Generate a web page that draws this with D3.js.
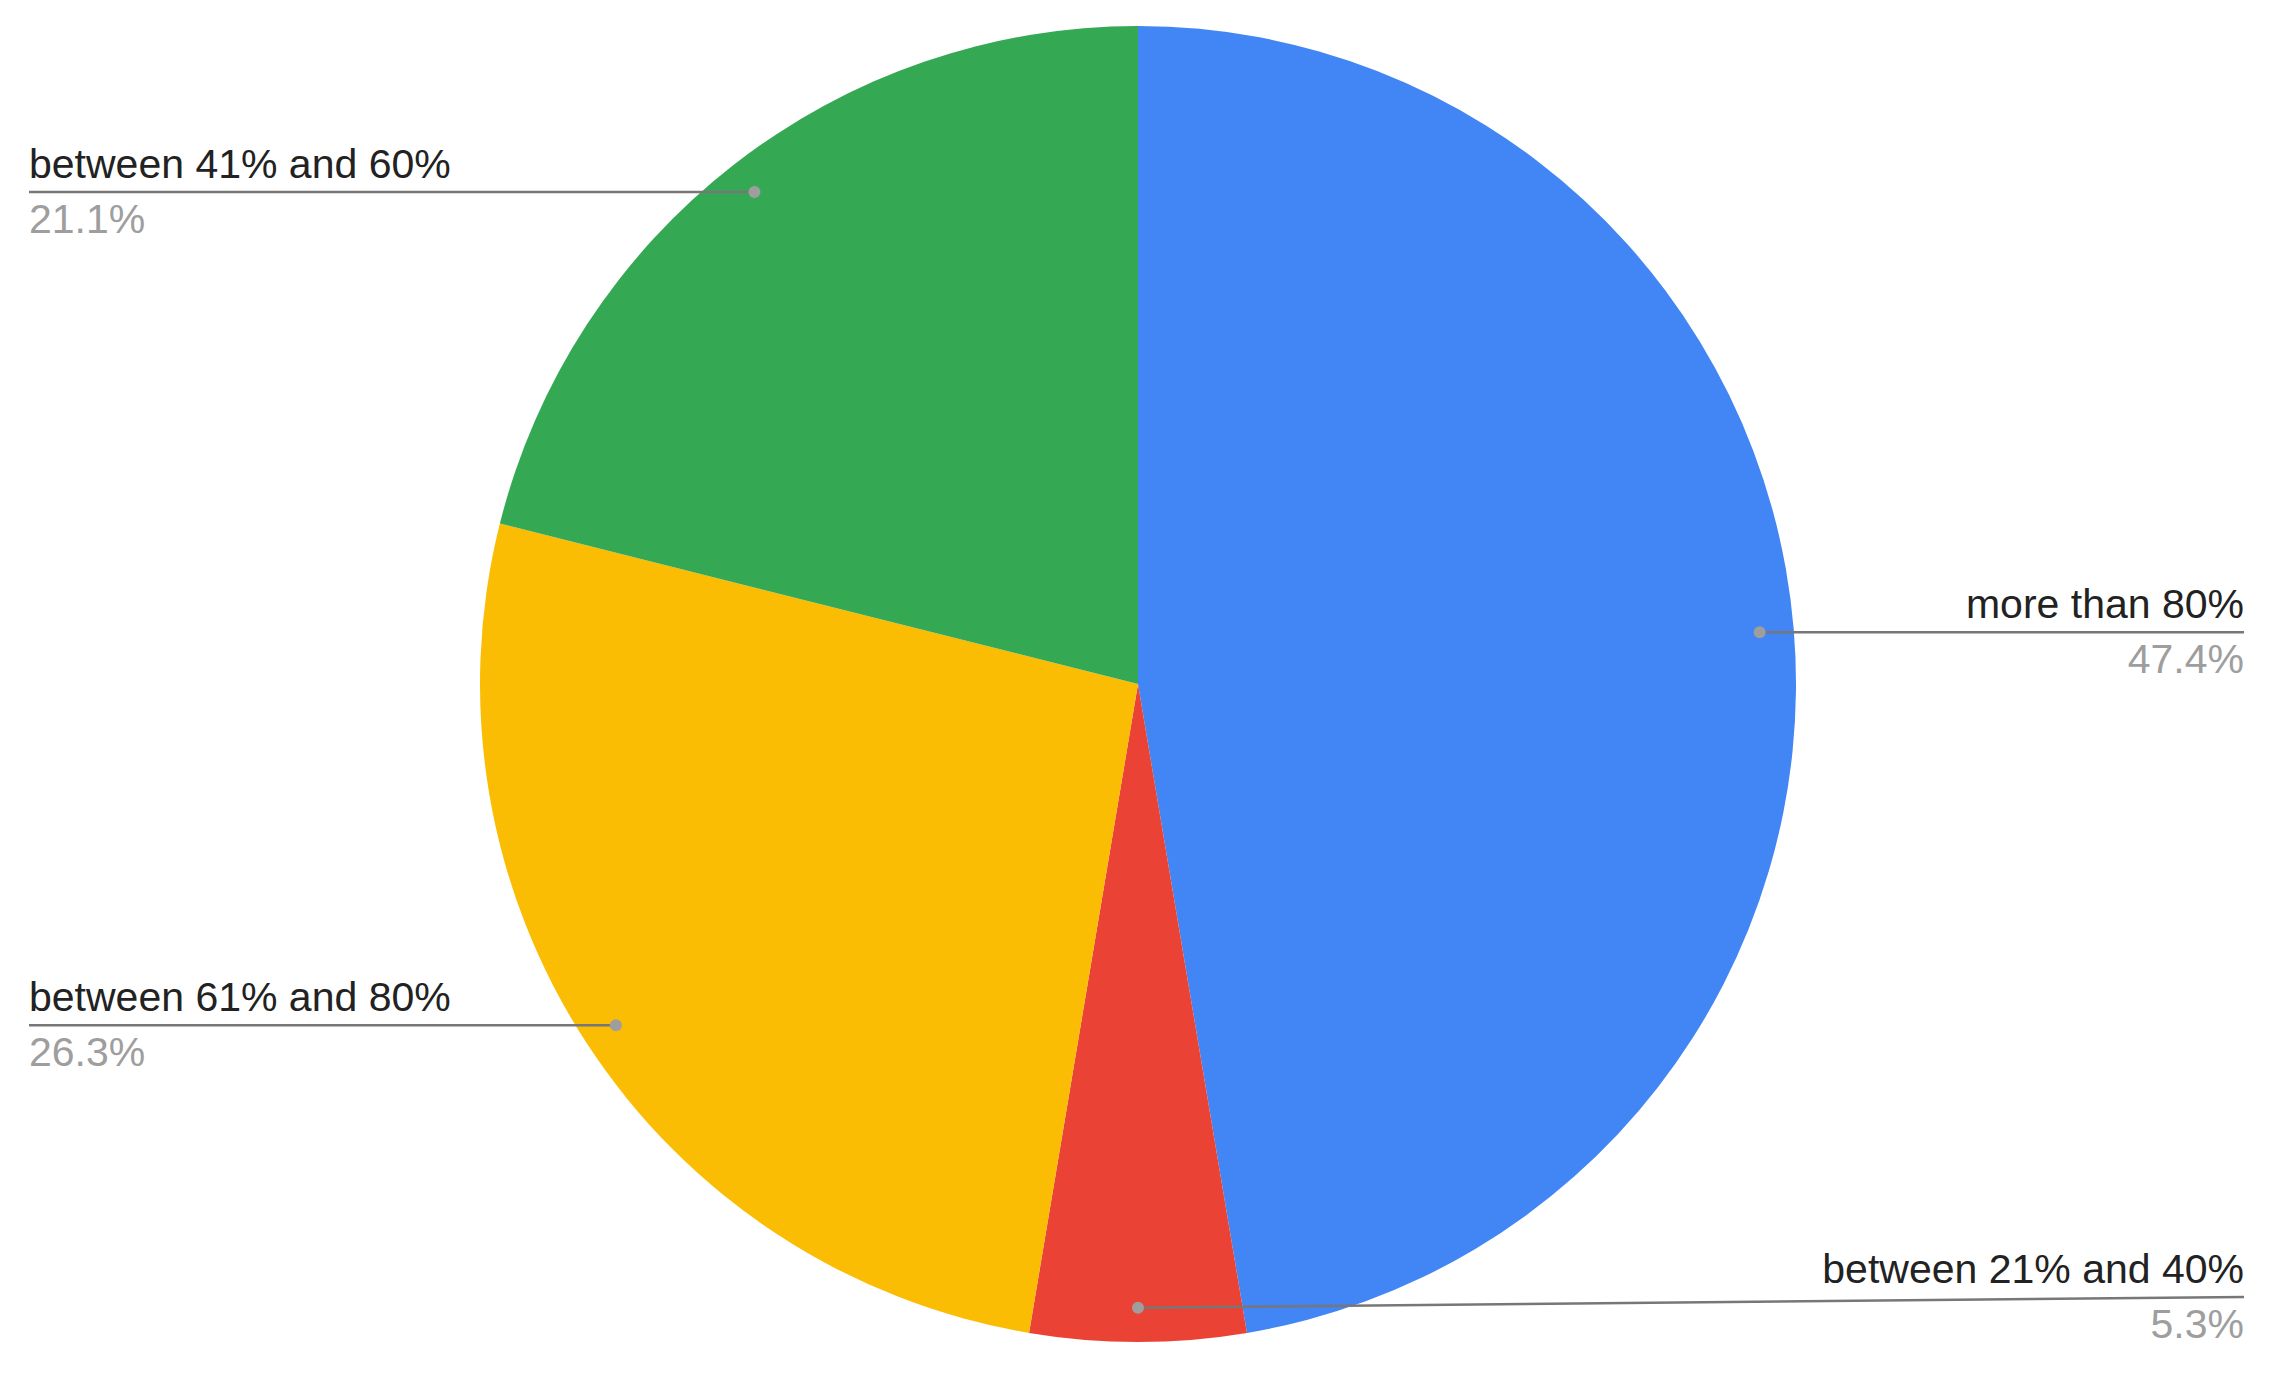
<!DOCTYPE html>
<html>
<head>
<meta charset="utf-8">
<script src="https://cdn.jsdelivr.net/npm/d3@7"></script>
<style>
  body { margin: 0; background: #fff; }
  text { font-family: "Liberation Sans", Arial, sans-serif; }
</style>
</head>
<body>
<script>
// slice data, clockwise from 12 o'clock
const categories = ["more than 80%", "between 21% and 40%", "between 61% and 80%", "between 41% and 60%"];
const shares = [47.4, 5.3, 26.3, 21.1];
const colors = ["#4285f4", "#ea4335", "#fbbc04", "#34a853"];

const width = 2273, height = 1375;
const cx = 1138, cy = 684, radius = 658;
const labelLeft = 29, labelRight = 2244;
const maxLineY = 1297;  // labels can't go lower than this

const data = categories.map((c, i) => ({name: c, value: shares[i], color: colors[i]}));

const pie = d3.pie().sort(null).value(d => d.value);
const arcs = pie(data);
const arc = d3.arc().innerRadius(0).outerRadius(radius);

const svg = d3.select("body").append("svg")
    .attr("width", width)
    .attr("height", height);

const g = svg.append("g").attr("transform", "translate(" + cx + "," + cy + ")");

g.selectAll("path.slice")
    .data(arcs)
    .enter().append("path")
    .attr("class", "slice")
    .attr("d", arc)
    .attr("fill", d => d.data.color);

// label anchors sit at ~95% of the radius, mid slice
const anchorR = radius * 0.948;
arcs.forEach(a => {
    const mid = (a.startAngle + a.endAngle) / 2;
    const ax = cx + anchorR * Math.sin(mid);
    const ay = cy - anchorR * Math.cos(mid);
    // bottom-center slices go to the right side
    const right = Math.sin(mid) > -0.05;
    const lx = right ? labelRight : labelLeft;
    const ly = Math.min(ay, maxLineY);

    svg.append("line")
        .attr("x1", ax).attr("y1", ay)
        .attr("x2", lx).attr("y2", ly)
        .attr("stroke", "#777")
        .attr("stroke-width", 2.5);

    svg.append("circle")
        .attr("cx", ax).attr("cy", ay)
        .attr("r", 6)
        .attr("fill", "#9e9e9e");

    svg.append("text")
        .attr("x", lx).attr("y", ly - 14)
        .attr("text-anchor", right ? "end" : "start")
        .attr("font-size", 41)
        .attr("fill", "#222")
        .text(a.data.name);

    svg.append("text")
        .attr("x", lx).attr("y", ly + 41)
        .attr("text-anchor", right ? "end" : "start")
        .attr("font-size", 41)
        .attr("fill", "#9e9e9e")
        .text(d3.format(".1f")(a.data.value) + "%");
});
</script>
</body>
</html>
